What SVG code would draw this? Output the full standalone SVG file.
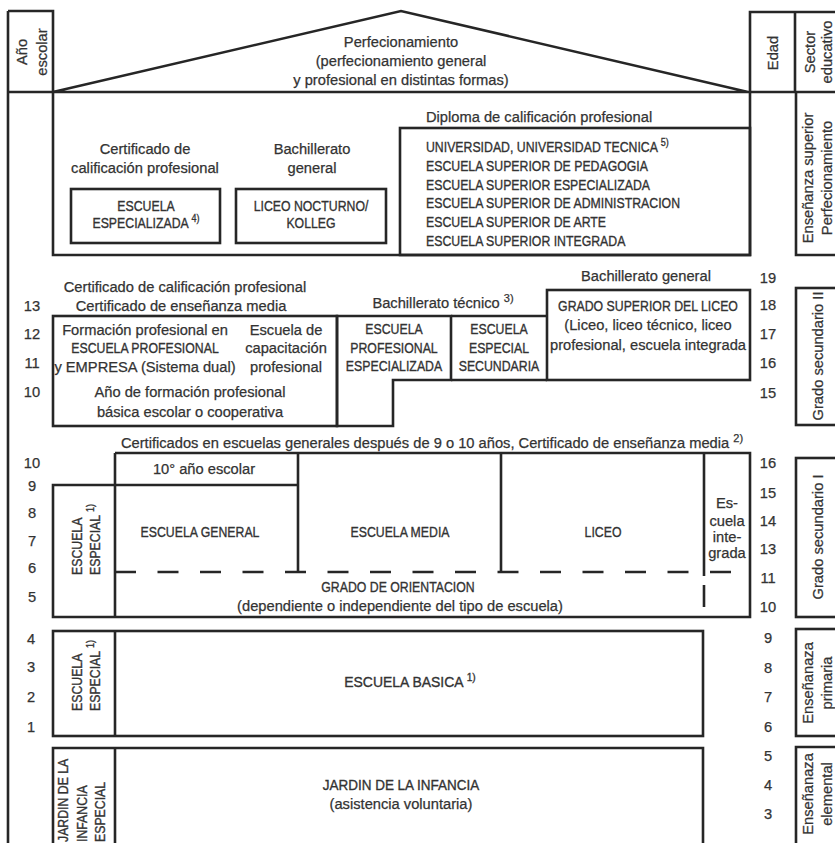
<svg xmlns="http://www.w3.org/2000/svg" width="835" height="843" viewBox="0 0 835 843">
<style>
.ln{fill:none;stroke:#262626;stroke-width:2.6;stroke-linejoin:miter;stroke-linecap:butt}
.dash{stroke-dasharray:21 21.5}
.t{font-family:"Liberation Sans",Arial,sans-serif;font-size:14.7px;fill:#333;stroke:#333;stroke-width:0.25}
.c{font-family:"Liberation Sans",Arial,sans-serif;font-size:15px;fill:#333;stroke:#333;stroke-width:0.35}
.m{text-anchor:middle}
.s{font-size:11px}
</style>
<rect width="835" height="843" fill="#fff"/>

<g id="frame">
<path class="ln" d="M8,11 V843 M8,11 H53 V92 M8,92 H835 M53,92 L401,11 L748,92 M750,92 V12 H840 M795,12 V92"/>
</g>

<g id="header-year">
<text class="t m" transform="translate(27,52) rotate(-90)">Año</text>
<text class="t m" transform="translate(47,52) rotate(-90)">escolar</text>
</g>
<g id="header-perfeccionamiento">
<text class="t m" x="401" y="47">Perfecionamiento</text>
<text class="t m" x="401" y="66">(perfecionamiento general</text>
<text class="t m" x="401" y="85">y profesional en distintas formas)</text>
</g>
<g id="header-edad">
<text class="t m" transform="translate(778,53) rotate(-90)">Edad</text>
</g>
<g id="header-sector">
<text class="t m" transform="translate(815,52) rotate(-90)">Sector</text>
<text class="t m" transform="translate(832,52) rotate(-90)">educativo</text>
</g>

<g id="higher-education">
<path class="ln" d="M53,92 V255 H750 V92"/>
<text class="t m" x="145" y="154">Certificado de</text>
<text class="t m" x="145" y="173">calificación profesional</text>
<text class="t m" x="312" y="154">Bachillerato</text>
<text class="t m" x="312" y="173">general</text>
<text class="t" x="426" y="122">Diploma de calificación profesional</text>
</g>
<g id="escuela-especializada">
<rect class="ln" x="71" y="189" width="149" height="54"/>
<text class="c m" transform="translate(146,211) scale(.82,1)">ESCUELA</text>
<text class="c m" transform="translate(146,228) scale(.82,1)">ESPECIALIZADA <tspan class="s" dy="-6">4)</tspan></text>
</g>
<g id="liceo-nocturno">
<rect class="ln" x="236" y="189" width="150" height="54"/>
<text class="c m" transform="translate(311,211) scale(.82,1)">LICEO NOCTURNO/</text>
<text class="c m" transform="translate(311,228) scale(.82,1)">KOLLEG</text>
</g>
<g id="universidad">
<rect class="ln" x="400" y="128" width="350" height="127"/>
<text class="c" transform="translate(426,152) scale(.82,1)">UNIVERSIDAD, UNIVERSIDAD TECNICA <tspan class="s" dy="-6">5)</tspan></text>
<text class="c" transform="translate(426,171) scale(.82,1)">ESCUELA SUPERIOR DE PEDAGOGIA</text>
<text class="c" transform="translate(426,190) scale(.82,1)">ESCUELA SUPERIOR ESPECIALIZADA</text>
<text class="c" transform="translate(426,208) scale(.82,1)">ESCUELA SUPERIOR DE ADMINISTRACION</text>
<text class="c" transform="translate(426,227) scale(.82,1)">ESCUELA SUPERIOR DE ARTE</text>
<text class="c" transform="translate(426,246) scale(.82,1)">ESCUELA SUPERIOR INTEGRADA</text>
</g>

<g id="secondary-ii-labels">
<text class="t m" x="185" y="292">Certificado de calificación profesional</text>
<text class="t m" x="181" y="311">Certificado de enseñanza media</text>
<text class="t m" x="443" y="308">Bachillerato técnico <tspan class="s" dy="-6">3)</tspan></text>
<text class="t m" x="646" y="281">Bachillerato general</text>
</g>
<g id="formacion-profesional">
<rect class="ln" x="53" y="316" width="284" height="110"/>
<text class="t m" x="145" y="335">Formación profesional en</text>
<text class="c m" transform="translate(145,353) scale(.82,1)">ESCUELA PROFESIONAL</text>
<text class="t m" x="145" y="372">y EMPRESA (Sistema dual)</text>
<text class="t m" x="286" y="335">Escuela de</text>
<text class="t m" x="286" y="353">capacitación</text>
<text class="t m" x="286" y="372">profesional</text>
<text class="t m" x="190" y="397">Año de formación profesional</text>
<text class="t m" x="190" y="417">básica escolar o cooperativa</text>
</g>
<g id="escuela-profesional-especializada">
<path class="ln" d="M337,316 H451 V380 H393 V426 H337 Z"/>
<text class="c m" transform="translate(394,334) scale(.82,1)">ESCUELA</text>
<text class="c m" transform="translate(394,353) scale(.82,1)">PROFESIONAL</text>
<text class="c m" transform="translate(394,371) scale(.82,1)">ESPECIALIZADA</text>
</g>
<g id="escuela-especial-secundaria">
<path class="ln" d="M451,316 H547 M451,380 H547"/>
<text class="c m" transform="translate(499,334) scale(.82,1)">ESCUELA</text>
<text class="c m" transform="translate(499,353) scale(.82,1)">ESPECIAL</text>
<text class="c m" transform="translate(499,371) scale(.82,1)">SECUNDARIA</text>
</g>
<g id="grado-superior-liceo">
<rect class="ln" x="547" y="290" width="203" height="90"/>
<text class="c m" transform="translate(648,311) scale(.82,1)">GRADO SUPERIOR DEL LICEO</text>
<text class="t m" x="648" y="330">(Liceo, liceo técnico, liceo</text>
<text class="t m" x="648" y="350">profesional, escuela integrada</text>
</g>

<g id="certificados-generales">
<text class="t m" x="432" y="448">Certificados en escuelas generales después de 9 o 10 años, Certificado de enseñanza media <tspan class="s" dy="-6">2)</tspan></text>
</g>

<g id="secondary-i">
<path class="ln" d="M115,453 H750 V617 H53 V485 H298 M115,453 V617 M298,453 V572 M501,453 V572 M704,453 V576 M704,585 V607"/>
<path class="ln dash" d="M115,572 H735"/>
<text class="t m" x="204" y="474">10° año escolar</text>
<text class="c m" transform="translate(200,537) scale(.82,1)">ESCUELA GENERAL</text>
<text class="c m" transform="translate(400,537) scale(.82,1)">ESCUELA MEDIA</text>
<text class="c m" transform="translate(603,537) scale(.82,1)">LICEO</text>
<text class="t m" x="727" y="508">Es-</text>
<text class="t m" x="727" y="526">cuela</text>
<text class="t m" x="727" y="542">inte-</text>
<text class="t m" x="727" y="558">grada</text>
<text class="c m" transform="translate(398,592) scale(.82,1)">GRADO DE ORIENTACION</text>
<text class="t m" x="400" y="611">(dependiente o independiente del tipo de escuela)</text>
</g>
<g id="escuela-especial-i">
<text class="c" transform="translate(82,575) rotate(-90) scale(.82,1)">ESCUELA</text>
<text class="c" transform="translate(100,575) rotate(-90) scale(.82,1)">ESPECIAL <tspan class="s" dy="-6">1)</tspan></text>
</g>

<g id="escuela-basica">
<rect class="ln" x="53" y="631" width="650" height="105"/>
<path class="ln" d="M115,631 V736"/>
<text class="c m" transform="translate(410,687) scale(.93,1)">ESCUELA BASICA <tspan class="s" dy="-6">1)</tspan></text>
</g>
<g id="escuela-especial-primaria">
<text class="c" transform="translate(82,711) rotate(-90) scale(.82,1)">ESCUELA</text>
<text class="c" transform="translate(100,711) rotate(-90) scale(.82,1)">ESPECIAL <tspan class="s" dy="-6">1)</tspan></text>
</g>

<g id="jardin-infancia">
<path class="ln" d="M53,850 V748 H703 V850 M115,748 V850"/>
<text class="c m" transform="translate(401,790) scale(.9,1)">JARDIN DE LA INFANCIA</text>
<text class="t m" x="401" y="809">(asistencia voluntaria)</text>
</g>
<g id="jardin-especial">
<text class="c" transform="translate(68,842) rotate(-90) scale(.82,1)">JARDIN DE LA</text>
<text class="c" transform="translate(87,842) rotate(-90) scale(.82,1)">INFANCIA</text>
<text class="c" transform="translate(105,842) rotate(-90) scale(.82,1)">ESPECIAL</text>
</g>

<g id="school-years">
<text class="t m" x="32" y="311">13</text>
<text class="t m" x="32" y="339">12</text>
<text class="t m" x="32" y="368">11</text>
<text class="t m" x="32" y="397">10</text>
<text class="t m" x="32" y="468">10</text>
<text class="t m" x="32" y="491">9</text>
<text class="t m" x="32" y="518">8</text>
<text class="t m" x="32" y="546">7</text>
<text class="t m" x="32" y="573">6</text>
<text class="t m" x="32" y="602">5</text>
<text class="t m" x="31" y="644">4</text>
<text class="t m" x="31" y="672">3</text>
<text class="t m" x="31" y="702">2</text>
<text class="t m" x="31" y="732">1</text>
</g>
<g id="ages">
<text class="t m" x="768" y="283">19</text>
<text class="t m" x="768" y="310">18</text>
<text class="t m" x="768" y="339">17</text>
<text class="t m" x="768" y="368">16</text>
<text class="t m" x="768" y="398">15</text>
<text class="t m" x="768" y="468">16</text>
<text class="t m" x="768" y="498">15</text>
<text class="t m" x="768" y="526">14</text>
<text class="t m" x="768" y="554">13</text>
<text class="t m" x="768" y="583">11</text>
<text class="t m" x="768" y="612">10</text>
<text class="t m" x="768" y="643">9</text>
<text class="t m" x="768" y="673">8</text>
<text class="t m" x="768" y="702">7</text>
<text class="t m" x="768" y="732">6</text>
<text class="t m" x="768" y="761">5</text>
<text class="t m" x="768" y="790">4</text>
<text class="t m" x="768" y="819">3</text>
</g>

<g id="sector-superior">
<path class="ln" d="M796,92 V255 H840"/>
<text class="t m" transform="translate(813,178) rotate(-90)">Enseñanza superior</text>
<text class="t m" transform="translate(832,178) rotate(-90)">Perfecionamiento</text>
</g>
<g id="sector-secundario-ii">
<rect class="ln" x="796" y="288" width="44" height="137"/>
<text class="t m" transform="translate(823,356) rotate(-90)">Grado secundario II</text>
</g>
<g id="sector-secundario-i">
<rect class="ln" x="796" y="458" width="44" height="159"/>
<text class="t m" transform="translate(823,537) rotate(-90)">Grado secundario I</text>
</g>
<g id="sector-primaria">
<rect class="ln" x="796" y="629" width="44" height="107"/>
<text class="t m" transform="translate(813,683) rotate(-90)">Enseñanaza</text>
<text class="t m" transform="translate(832,683) rotate(-90)">primaria</text>
</g>
<g id="sector-elemental">
<path class="ln" d="M796,850 V747 H840"/>
<text class="t m" transform="translate(813,794) rotate(-90)">Enseñanaza</text>
<text class="t m" transform="translate(832,794) rotate(-90)">elemental</text>
</g>
</svg>
